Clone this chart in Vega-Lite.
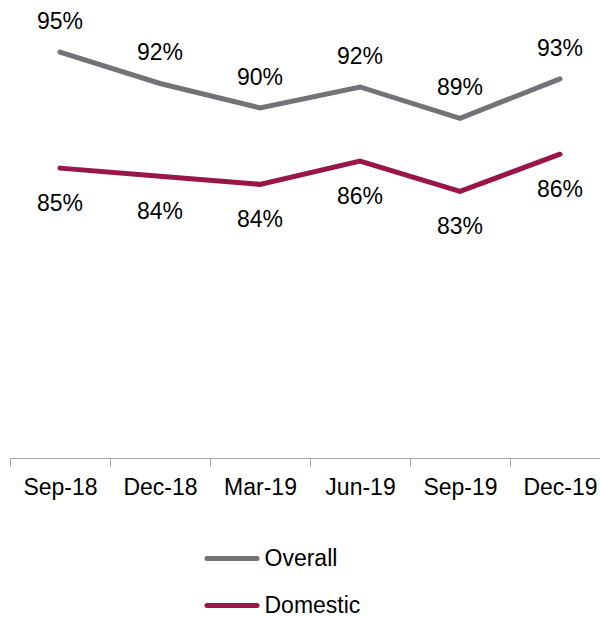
{
  "$schema": "https://vega.github.io/schema/vega-lite/v6.json",
  "width": 590,
  "height": 458,
  "autosize": {"type": "none"},
  "padding": {"left": 10, "top": 0, "right": 0, "bottom": 159},
  "background": "white",
  "config": {"view": {"stroke": null}, "font": "Liberation Sans"},
  "data": {
    "values": [
      {"series": "Overall", "period": "Sep-18", "value": 95.0, "label": "95%"},
      {"series": "Overall", "period": "Dec-18", "value": 92.3, "label": "92%"},
      {"series": "Overall", "period": "Mar-19", "value": 90.2, "label": "90%"},
      {"series": "Overall", "period": "Jun-19", "value": 92.0, "label": "92%"},
      {"series": "Overall", "period": "Sep-19", "value": 89.3, "label": "89%"},
      {"series": "Overall", "period": "Dec-19", "value": 92.7, "label": "93%"},
      {"series": "Domestic", "period": "Sep-18", "value": 85.0, "label": "85%"},
      {"series": "Domestic", "period": "Dec-18", "value": 84.3, "label": "84%"},
      {"series": "Domestic", "period": "Mar-19", "value": 83.6, "label": "84%"},
      {"series": "Domestic", "period": "Jun-19", "value": 85.6, "label": "86%"},
      {"series": "Domestic", "period": "Sep-19", "value": 83.0, "label": "83%"},
      {"series": "Domestic", "period": "Dec-19", "value": 86.2, "label": "86%"}
    ]
  },
  "encoding": {
    "x": {
      "field": "period",
      "type": "ordinal",
      "sort": ["Sep-18", "Dec-18", "Mar-19", "Jun-19", "Sep-19", "Dec-19"],
      "scale": {"type": "band", "range": [0, 600], "paddingInner": 0, "paddingOuter": 0},
      "axis": {
        "title": null,
        "domainColor": "#a6a6a6",
        "tickColor": "#a6a6a6",
        "tickSize": 8,
        "tickBand": "extent",
        "labelFontSize": 23,
        "labelColor": "#000000",
        "labelPadding": 10,
        "labelAngle": 0,
        "grid": false
      }
    },
    "y": {
      "field": "value",
      "type": "quantitative",
      "scale": {"domain": [60, 99.5], "nice": false, "zero": false},
      "axis": null
    }
  },
  "layer": [
    {
      "mark": {"type": "line", "strokeWidth": 5, "strokeCap": "round"},
      "encoding": {
        "color": {
          "field": "series",
          "type": "nominal",
          "scale": {"domain": ["Overall", "Domestic"], "range": ["#737377", "#9A1548"]},
          "legend": {
            "orient": "none",
            "legendX": 194.5,
            "legendY": 531,
            "title": null,
            "direction": "vertical",
            "symbolType": "stroke",
            "symbolSize": 2500,
            "symbolStrokeWidth": 5,
            "labelFontSize": 23,
            "labelColor": "#000000",
            "labelOffset": 5,
            "rowPadding": 7,
            "padding": 0,
            "encode": {"symbols": {"update": {"strokeCap": {"value": "round"}}}}
          }
        }
      }
    },
    {
      "transform": [{"filter": "datum.series === 'Overall'"}],
      "mark": {"type": "text", "dy": -30, "fontSize": 23, "color": "#000000", "baseline": "middle"},
      "encoding": {"text": {"field": "label"}}
    },
    {
      "transform": [{"filter": "datum.series === 'Domestic'"}],
      "mark": {"type": "text", "dy": 36, "fontSize": 23, "color": "#000000", "baseline": "middle"},
      "encoding": {"text": {"field": "label"}}
    }
  ]
}
